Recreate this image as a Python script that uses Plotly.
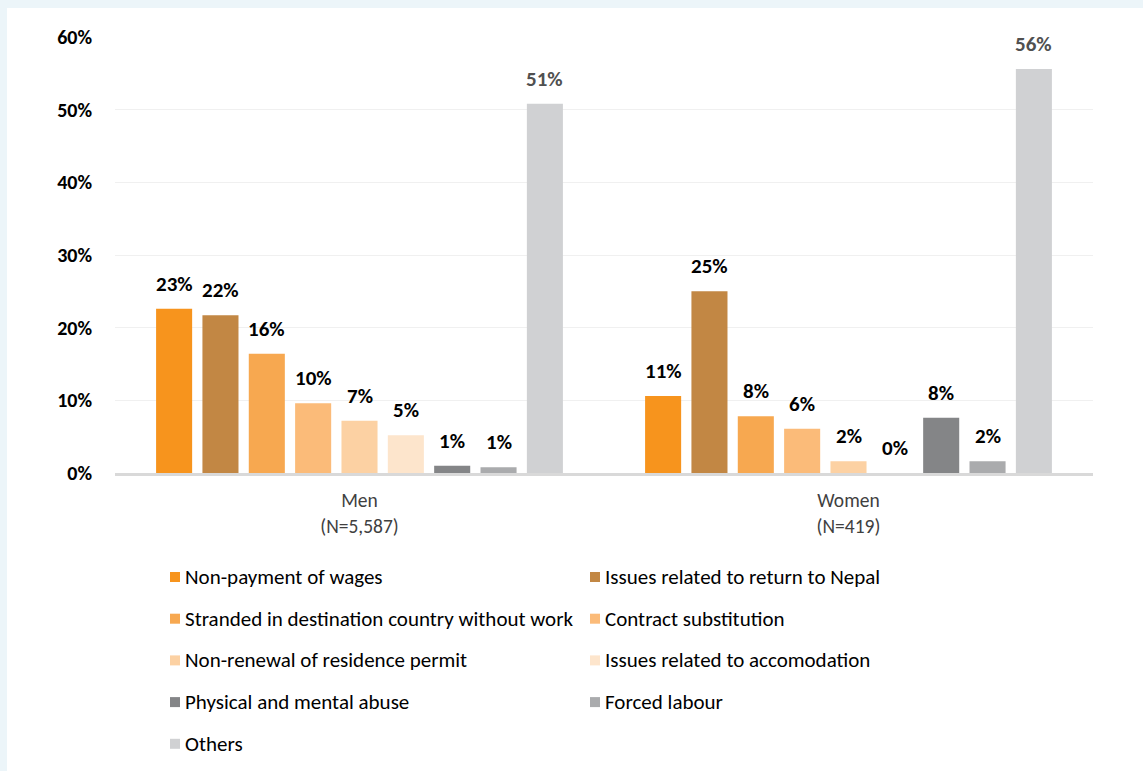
import plotly.graph_objects as go

# Grievance categories and shares (%) by sex
categories = ["Men", "Women"]
sample_sizes = ["5,587", "419"]
series_names = [
    "Non-payment of wages",
    "Issues related to return to Nepal",
    "Stranded in destination country without work",
    "Contract substitution",
    "Non-renewal of residence permit",
    "Issues related to accomodation",
    "Physical and mental abuse",
    "Forced labour",
    "Others",
]
men_values = [22.6, 21.7, 16.4, 9.6, 7.2, 5.2, 1.0, 0.8, 50.8]
women_values = [10.6, 25.0, 7.8, 6.1, 1.6, 0.0, 7.6, 1.6, 55.6]
y_ticks = [0, 10, 20, 30, 40, 50, 60]

colors = ["#f7941d", "#c28744", "#f7a850", "#fbbb79", "#fcd1a3",
          "#fde5cc", "#848587", "#aaabad", "#d0d1d3"]
label_colors = ["#000000"] * 8 + ["#505050"]

FONT = "Carlito, Calibri, Lato, sans-serif"

W, H = 1143, 771
ML, MR, MT, MB = 115, 50, 37, 298
PW, PH = W - ML - MR, H - MT - MB
BARGAP, BARGROUPGAP = 0.147, 0.222


def px_x(p):
    return (p - ML) / PW


def px_y(p):
    return (H - MB - p) / PH


fig = go.Figure()
for i, name in enumerate(series_names):
    fig.add_trace(go.Bar(
        name=name,
        x=categories,
        y=[men_values[i], women_values[i]],
        marker=dict(color=colors[i], line=dict(width=0)),
        showlegend=False,
    ))

annotations = []
# value labels above each bar, centred on its slot in the group
n = len(series_names)
slot_px = PW / len(categories) * (1 - BARGAP) / n
for i in range(n):
    for cat, vals in zip(categories, [men_values, women_values]):
        annotations.append(dict(
            x=cat, y=vals[i], xref="x", yref="y",
            text=f"{round(vals[i])}%", showarrow=False,
            xanchor="center", yanchor="middle",
            xshift=(i - (n - 1) / 2) * slot_px, yshift=25,
            font=dict(family=FONT, size=21, color=label_colors[i], weight="bold"),
        ))

shapes = [
    # light band along the top and left edges
    dict(type="rect", xref="paper", yref="paper", layer="below",
         x0=px_x(0), x1=px_x(W), y0=px_y(8), y1=px_y(0),
         fillcolor="#ecf5f9", line=dict(width=0)),
    dict(type="rect", xref="paper", yref="paper", layer="below",
         x0=px_x(0), x1=px_x(7), y0=px_y(H), y1=px_y(0),
         fillcolor="#ecf5f9", line=dict(width=0)),
]

# two-column legend drawn beneath the plot
col_x = [170, 590]
row_y0, row_step = 577, 41.7
for i, name in enumerate(series_names):
    cx = col_x[i % 2]
    cy = row_y0 + (i // 2) * row_step
    shapes.append(dict(type="rect", xref="paper", yref="paper",
                       x0=px_x(cx), x1=px_x(cx + 10),
                       y0=px_y(cy + 5), y1=px_y(cy - 5),
                       fillcolor=colors[i], line=dict(width=0)))
    annotations.append(dict(xref="paper", yref="paper",
                            x=px_x(cx + 13), y=px_y(cy),
                            xanchor="left", yanchor="middle",
                            text=name, showarrow=False,
                            font=dict(family=FONT, size=21, color="#000000")))

fig.update_layout(
    width=W, height=H,
    margin=dict(l=ML, r=MR, t=MT, b=MB),
    paper_bgcolor="#ffffff",
    plot_bgcolor="#ffffff",
    barmode="group",
    bargap=BARGAP,
    bargroupgap=BARGROUPGAP,
    showlegend=False,
    shapes=shapes,
    annotations=annotations,
    font=dict(family=FONT),
)
fig.update_xaxes(
    tickvals=categories,
    ticktext=[f"{c}<br>(N={s})" for c, s in zip(categories, sample_sizes)],
    tickfont=dict(family=FONT, size=19.5, color="#404040"),
    showline=True, linecolor="#d9d9d9", linewidth=3,
    ticks="", showgrid=False,
    ticklabelstandoff=8,
)
fig.update_yaxes(
    range=[0, 60],
    tickvals=y_ticks,
    ticktext=[f"{v}%" for v in y_ticks],
    tickfont=dict(family=FONT, size=20, color="#000000", weight="bold"),
    showgrid=True, gridcolor="#f0f0f0", gridwidth=1,
    zeroline=False, showline=False, ticks="",
    ticklabelstandoff=22,
)

fig.write_html("out.html")
